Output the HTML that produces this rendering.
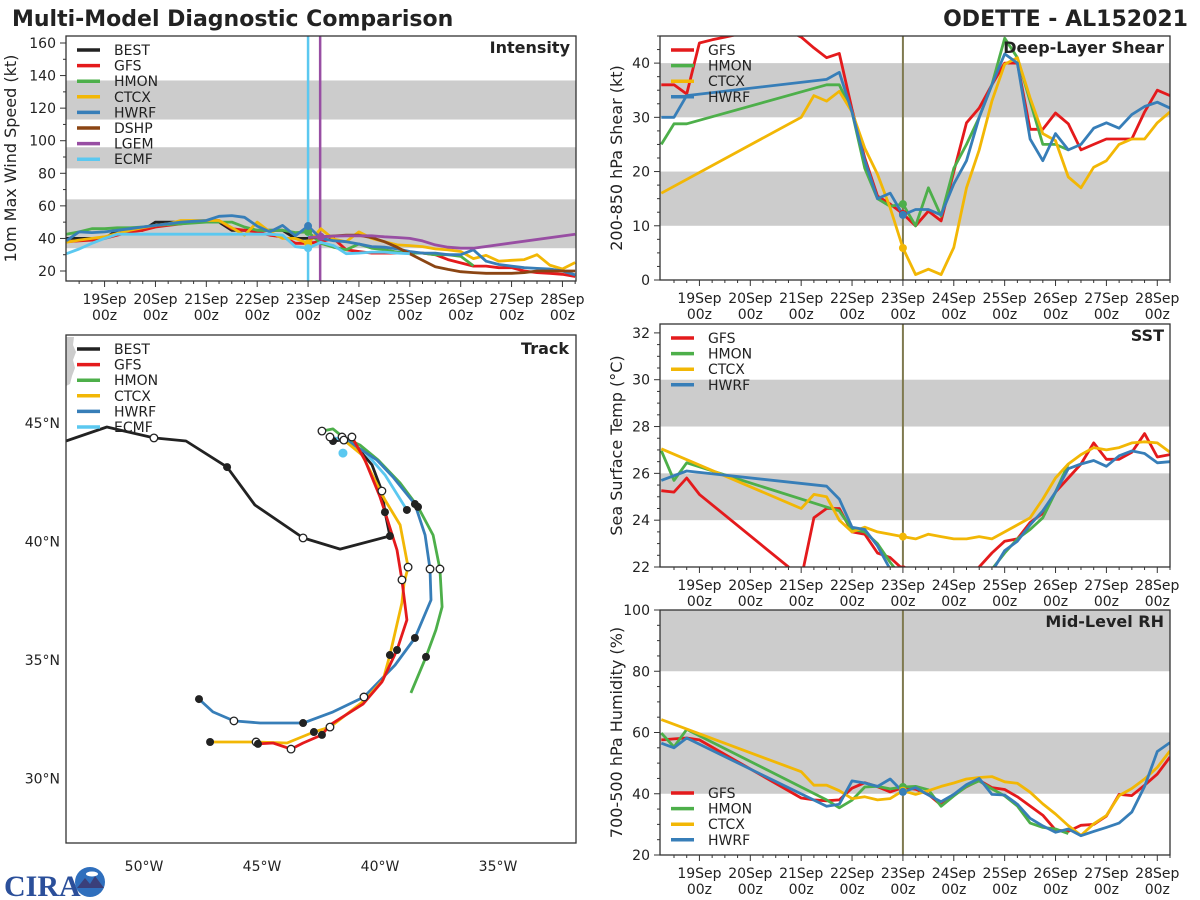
<!DOCTYPE html>
<html><head><meta charset="utf-8"><style>
html,body{margin:0;padding:0;background:#fff;}
svg{display:block;font-family:"DejaVu Sans","Liberation Sans",sans-serif;}
</style></head><body>
<svg id="chart" width="1200" height="900" viewBox="0 0 1200 900" xmlns="http://www.w3.org/2000/svg">
<rect x="0" y="0" width="1200" height="900" fill="#fff"/>
<text x="12" y="26" font-size="22" font-weight="bold" fill="#222">Multi-Model Diagnostic Comparison</text>
<text x="1188" y="26" font-size="22" font-weight="bold" fill="#222" text-anchor="end">ODETTE - AL152021</text>
<g id="logo">
<text x="4" y="896" font-size="30" font-weight="bold" fill="#2b4f9a" font-family="Liberation Serif, serif">CIRA</text>
<circle cx="90" cy="882" r="15" fill="#2f6fbd"/>
<path d="M77 888 L85 878 L90 884 L95 876 L104 888 Z" fill="#3a3f7a"/>
<ellipse cx="92" cy="874" rx="6" ry="2.5" fill="#fff"/>
</g>
</svg>
<script>
// ===== shared time grid (hours relative to 23Sep 00z) =====
const hours = [-114,-108,-102,-96,-90,-84,-78,-72,-66,-60,
 -54,-48,-42,-36,-30,-24,-18,-12,-6,0,
 6,12,18,24,30,36,42,48,54,60,
 66,72,78,84,90,96,102,108,114,120,
 126];
const dayLabels = ['19Sep','20Sep','21Sep','22Sep','23Sep','24Sep','25Sep','26Sep','27Sep','28Sep'];
const dayHours = [-96,-72,-48,-24,0,24,48,72,96,120];

// ===== Intensity (kt) =====
const intBEST = [40,40,40,40,45,45,45,50,50,50,
 50,50,50,45,45,45,45,45,40,40,
 null,null,null,null,null,null,null,null,null,null,
 null,null,null,null,null,null,null,null,null,null,
 null];
const intGFS = [38,38.5,39,40,42,44,45,47,48,49,
 50,51,51,46,45,44,42,41,37,37,
 38,40,33,32,31,31,31,31,31,30,
 27,25,23,23,22,22,20,19,18.6,18,
 16.6];
const intHMON = [42.6,44,46,46,46.5,46.5,47,48,48.5,49,
 49.5,50,50,50,47,45,45,45,43.6,44,
 37,34.6,33,36.6,34,33,31.6,31,31,30,
 30,29,23.2,null,null,null,null,null,null,null,
 null];
const intCTCX = [37.6,39,40,41,43,45,46.5,48,49,51,
 51,51,51,46.6,42,50,44,40,40,37,
 46,39.6,38,44,40,38,36,35.6,35,33.6,
 33,32,27.6,29.6,26,26.6,27,30,23.6,21.2,
 25.2];
const intHWRF = [38.6,44,43.6,44,45,46,47,48,49,50,
 50.5,51,53.6,54,53,47.6,44,48,41.6,47.6,
 40,38.6,38,36.6,35,34.6,33.6,32,31,31,
 30,30,33,26,24,23,22,21.6,21.2,20,
 17.6];
const intDSHP = [null,null,null,null,null,null,null,null,null,null,
 null,null,null,null,null,null,null,null,null,40,
 41,41.5,42,42,40.5,38,34.6,30.6,26.6,22.6,
 21,19.6,19,18.6,18.6,18.6,19,20,20,20,
 20];
const intLGEM = [null,null,null,null,null,null,null,null,null,null,
 null,null,null,null,null,null,null,null,null,40.6,
 41,41.4,41.6,41.6,41.6,41,40.6,40,38.5,36,
 34.6,34,34,null,null,null,null,null,null,null,
 42.6];
const intECMF = [30.6,33.5,37,40,42.6,null,null,null,null,null,
 null,null,null,null,null,null,42.6,42,35,34,
 37.6,35.6,30.6,31,31.6,31.6,31,30.6,null,null,
 null,null,null,null,null,null,null,null,null,null,
 null];
const intTicks = [20,40,60,80,100,120,140,160];

// ===== Deep-layer shear (kt) =====
const shrGFS = [36,36,34.3,43.7,44.3,44.8,45.3,46,46,46,
 46,44.8,42.8,41,41.8,31.5,22.5,15.5,14,12.2,
 10,12.7,10.9,20,29,31.7,36,40,40,27.8,
 27.8,30.8,28.8,24,25,26,26,26,31,35,
 34];
const shrHMON = [25,28.8,28.8,null,null,null,null,null,null,null,
 null,null,null,36,36,31,20.6,15,13.6,14,
 10,17,11.8,20.6,25,30,36,44.6,41,33,
 25,25,24,null,null,null,null,null,null,null,
 null];
const shrCTCX = [16,null,null,null,null,null,null,null,null,null,
 null,30,34,33,34.8,31,24.3,19.5,13.3,5.9,
 1,2,1,6,17,24,33,39.8,41,33.6,
 27,25.7,19,17,20.8,22,25,26,26,29,
 31];
const shrHWRF = [30,30,34,null,null,null,null,null,null,null,
 null,null,null,37,38.3,31,22,15,16,12,
 13,13,12,17.7,22,30,36,41.7,40,26,
 22,27,24,25,28,29,28,30.5,32,32.8,
 31.7];
const shrTicks = [0,10,20,30,40];

// ===== SST (deg C) =====
const sstGFS = [25.26,25.2,25.8,25.1,null,null,null,null,null,null,
 22.0,21.5,24.1,24.5,24.5,23.5,23.4,22.6,22.4,21.9,
 21,20.5,20.5,21,21.5,22.0,22.6,23.1,23.2,23.9,
 24.3,25.2,25.8,26.4,27.3,26.6,26.6,26.9,27.7,26.7,
 26.8];
const sstHMON = [26.97,25.7,26.45,null,null,null,null,null,null,null,
 null,null,null,24.56,24.4,23.6,23.5,23.0,22.2,21.5,
 21,21,21,21,21,21.2,21.9,22.6,23.2,23.6,
 24.1,25.2,26.4,null,null,null,null,null,null,null,
 null];
const sstCTCX = [27.05,null,null,null,null,null,null,null,null,null,
 null,24.5,25.1,25.0,24.0,23.5,23.7,23.5,23.4,23.3,
 23.2,23.4,23.3,23.2,23.2,23.3,23.2,23.5,23.8,24.1,
 24.9,25.8,26.4,26.8,27.1,27.0,27.1,27.3,27.35,27.3,
 26.9];
const sstHWRF = [25.7,25.9,26.1,null,null,null,null,null,null,null,
 null,null,null,25.45,24.9,23.7,23.6,22.9,21.9,21.5,
 21,21,21,21,21,21,21.8,22.7,23.1,23.8,
 24.4,25.2,26.2,26.4,26.55,26.3,26.75,26.96,26.85,26.45,
 26.5];
const sstTicks = [22,24,26,28,30,32];

// ===== Mid-level RH (%) =====
const rhGFS = [57.6,57.9,58.2,57.6,null,null,null,null,null,null,
 null,38.6,38,37.7,38,41.8,43.6,42.3,40.6,42,
 41.5,39.8,36.3,39.6,42.3,44.4,42,41.4,39,36,
 33,28.2,27.7,29.7,30,32.7,39.8,39.4,42.8,46.4,
 52];
const rhHMON = [59.8,55.3,61,null,null,null,null,null,null,null,
 null,null,null,38,35.4,37.9,42.2,42.4,41.6,42.2,
 42.4,41.3,35.9,39.3,42.4,44.2,41.6,39.3,36,30.4,
 29,28.5,27,null,null,null,null,null,null,null,
 null];
const rhCTCX = [64.2,null,null,null,null,null,null,null,null,null,
 null,47.2,42.8,42.8,41,38.4,39,38,38.4,41,
 39.8,41,42.4,43.5,44.8,45.3,45.6,43.9,43.4,40.5,
 36.7,33.4,29.6,26.4,30.2,32.9,39.4,41.7,44.8,48.6,
 54];
const rhHWRF = [56.5,55,58.2,null,null,null,null,null,null,null,
 null,null,null,35.9,36.6,44.2,43.5,42.4,44.8,40.6,
 42,39.6,37.4,39.8,43,45,39.8,39.6,36.6,32,
 29.5,27.4,28.5,26.3,27.7,29,30.4,34,42.4,53.8,
 56.7];
const rhTicks = [20,40,60,80,100];

// ===== Track (lon, lat) =====
const trkBESTlon = [-53.31,-51.57,-49.58,-48.22,-46.48,-45.30,-43.26,-41.69,-39.58,-39.79,-39.92,-40.34,-41.06,-41.61,-41.99];
const trkBESTlat = [44.24,44.83,44.37,44.24,43.14,41.54,40.15,39.68,40.23,41.24,42.13,43.23,44.07,44.28,44.24];
const trkGFSlon = [-41.19,-40.64,-40.00,-39.79,-39.28,-39.07,-38.86,-39.28,-39.92,-40.72,-42.12,-42.46,-43.26,-43.77,-44.53,-45.17];
const trkGFSlat = [44.41,43.44,41.88,41.24,39.64,38.38,36.69,35.42,34.07,33.14,32.26,31.84,31.50,31.24,31.50,31.46];
const trkHMONlon = [-42.46,-41.99,-41.57,-40.85,-40.08,-39.15,-38.39,-37.75,-37.46,-37.37,-37.63,-38.05,-38.69];
const trkHMONlat = [44.66,44.75,44.41,44.07,43.44,42.47,41.46,40.27,38.84,37.24,36.27,35.13,33.61];
const trkCTCXlon = [-41.53,-40.76,-39.79,-39.15,-38.81,-38.98,-39.07,-39.58,-39.87,-40.64,-42.12,-42.80,-43.94,-45.25,-47.20];
const trkCTCXlat = [44.28,43.65,41.75,40.70,38.92,38.25,37.41,35.21,34.16,33.31,32.17,31.96,31.50,31.54,31.54];
const trkHWRFlon = [-41.61,-40.13,-39.45,-38.52,-38.09,-37.88,-37.84,-38.52,-39.36,-40.68,-41.99,-43.26,-45.08,-46.19,-47.08,-47.67];
const trkHWRFlat = [44.41,43.44,42.72,41.58,40.27,38.84,37.53,35.93,34.79,33.44,32.81,32.34,32.34,32.43,32.81,33.35];
const trkECMFlon = [-42.12,-41.48,-40.64,-39.79,-38.86];
const trkECMFlat = [44.41,44.28,43.78,42.81,41.33];
const lonTicks = [-50,-45,-40,-35];
const latTicks = [30,35,40,45];

const C = {BEST:'#222222',GFS:'#e41a1c',HMON:'#4daf4a',CTCX:'#f2b705',HWRF:'#377eb8',DSHP:'#8b4513',LGEM:'#984ea3',ECMF:'#5bc8f0'};
const NS='http://www.w3.org/2000/svg';
const svg=document.getElementById('chart');
function mk(tag,attrs,parent){const e=document.createElementNS(NS,tag);for(const k in attrs)e.setAttribute(k,attrs[k]);(parent||svg).appendChild(e);return e;}
function txt(s,attrs,parent){const e=mk('text',attrs,parent);e.textContent=s;return e;}

function timePanel(cfg){
  const g=mk('g',{});
  
  
  const X=t=>cfg.x0+(t-cfg.t0)*(cfg.x1-cfg.x0)/(cfg.t1-cfg.t0);
  const Y=v=>cfg.y1-(v-cfg.v0)*(cfg.y1-cfg.y0)/(cfg.v1-cfg.v0);
  const cid='clip-'+cfg.name;
  const cp=mk('clipPath',{id:cid},g);
  mk('rect',{x:cfg.x0,y:cfg.y0,width:cfg.x1-cfg.x0,height:cfg.y1-cfg.y0},cp);
  for(const b of cfg.bands){
    const r=mk('rect',{x:cfg.x0,y:Y(b[1]),width:cfg.x1-cfg.x0,height:Y(b[0])-Y(b[1]),fill:'#cccccc'},g);
    
    
  }
  const pg=mk('g',{'clip-path':'url(#'+cid+')'},g);
  for(const vl of cfg.vlines){
    const l=mk('line',{x1:X(vl.t),x2:X(vl.t),y1:cfg.y0,y2:cfg.y1,stroke:vl.c,'stroke-width':vl.w||2},pg);
    
    
  }
  for(const s of cfg.series){
    let d='';
    s.v.forEach((v,i)=>{if(v===null)return;d+=(d?'L':'M')+X(hours[i]).toFixed(1)+' '+Y(v).toFixed(1);});
    const p=mk('path',{d:d,fill:'none',stroke:C[s.k],'stroke-width':2.8,'stroke-linejoin':'round'},pg);
    
    
  }
  for(const s of cfg.series){
    const i=hours.indexOf(s.dotT===undefined?0:s.dotT);
    if(s.dot===false||i<0||s.v[i]===null)continue;
    const c=mk('circle',{cx:X(hours[i]),cy:Y(s.v[i]),r:4,fill:C[s.k]},pg);
    
    
  }
  const fr=mk('rect',{x:cfg.x0,y:cfg.y0,width:cfg.x1-cfg.x0,height:cfg.y1-cfg.y0,fill:'none',stroke:'#333','stroke-width':1.3},g);
  
  
  for(let v=cfg.v0;v<=cfg.v1+1e-6;v+=cfg.minor){
    const vv=Math.round(v/cfg.minor)*cfg.minor; if(vv<cfg.v0||vv>cfg.v1)continue;
    const isMaj=cfg.ticks.some(t=>Math.abs(t-vv)<1e-6);
    mk('line',{x1:cfg.x0,x2:cfg.x0-(isMaj?6:3),y1:Y(vv),y2:Y(vv),stroke:'#333','stroke-width':1},g);
  }
  for(const t of cfg.ticks){
    const e=txt(String(t),{x:cfg.x0-10,y:Y(t)+5,'font-size':14,'text-anchor':'end',fill:'#222'},g);
    
    
  }
  for(let t=-108;t<=126;t+=6){
    if(X(t)<cfg.x0||X(t)>cfg.x1)continue;
    const maj=(t%24===0);
    mk('line',{x1:X(t),x2:X(t),y1:cfg.y1,y2:cfg.y1+(maj?6:3),stroke:'#333','stroke-width':1},g);
  }
  dayHours.forEach((t,i)=>{
    const a=txt(dayLabels[i],{x:X(t),y:cfg.y1+23,'font-size':14,'text-anchor':'middle',fill:'#222'},g);
    
    
    const b=txt('00z',{x:X(t),y:cfg.y1+39,'font-size':14,'text-anchor':'middle',fill:'#222'},g);
    
    
  });
  const yl=txt(cfg.ylabel,{x:0,y:0,'font-size':16,'text-anchor':'middle',fill:'#222',transform:'translate('+cfg.ylx+','+((cfg.y0+cfg.y1)/2)+') rotate(-90)'},g);
  
  
  const pt=txt(cfg.title,{x:cfg.x1-6,y:cfg.y0+17,'font-size':16,'font-weight':'bold','text-anchor':'end',fill:'#222'},g);
  
  
  legend(g,cfg.x0,cfg.legY,cfg.series.map(s=>s.k));
}
function legend(g,x0,y,keys){
  const lg=mk('g',{},g);
  
  
  keys.forEach((k,i)=>{
    const yy=y+i*15.6;
    const ln=mk('line',{x1:x0+11,x2:x0+34,y1:yy,y2:yy,stroke:C[k],'stroke-width':3.5},lg);
    
    
    const t=txt(k,{x:x0+48,y:yy+5,'font-size':14,fill:'#222'},lg);
    
    
  });
}

timePanel({name:'intensity-panel',x0:66,x1:576,y0:36,y1:281,t0:-114.2,t1:126.4,v0:13.86,v1:164.3,
  bands:[[34,64],[83,96],[113,137]],ticks:intTicks,minor:10,ylabel:'10m Max Wind Speed (kt)',ylx:16,title:'Intensity',legY:50,
  vlines:[{t:0,c:'#5bc8f0',w:2.5},{t:5.7,c:'#984ea3',w:2.5}],
  series:[{k:'BEST',v:intBEST,dot:false},{k:'GFS',v:intGFS,dot:false},{k:'HMON',v:intHMON},{k:'CTCX',v:intCTCX},{k:'HWRF',v:intHWRF},{k:'DSHP',v:intDSHP,dot:false},{k:'LGEM',v:intLGEM,dotT:6},{k:'ECMF',v:intECMF}]});
timePanel({name:'shear-panel',x0:660,x1:1170,y0:36,y1:280,t0:-114.6,t1:126,v0:0,v1:45,
  bands:[[10,20],[30,40]],ticks:shrTicks,minor:2.5,ylabel:'200-850 hPa Shear (kt)',ylx:622,title:'Deep-Layer Shear',legY:50,
  vlines:[{t:0,c:'#7f7a50',w:2}],
  series:[{k:'GFS',v:shrGFS},{k:'HMON',v:shrHMON},{k:'CTCX',v:shrCTCX},{k:'HWRF',v:shrHWRF}]});
timePanel({name:'sst-panel',x0:660,x1:1170,y0:324,y1:567,t0:-114.6,t1:126,v0:22,v1:32.38,
  bands:[[24,26],[28,30]],ticks:sstTicks,minor:0.5,ylabel:'Sea Surface Temp (°C)',ylx:622,title:'SST',legY:338,
  vlines:[{t:0,c:'#7f7a50',w:2}],
  series:[{k:'GFS',v:sstGFS},{k:'HMON',v:sstHMON},{k:'CTCX',v:sstCTCX},{k:'HWRF',v:sstHWRF}]});
timePanel({name:'rh-panel',x0:660,x1:1170,y0:610,y1:855,t0:-114.6,t1:126,v0:20,v1:100,
  bands:[[40,60],[80,100]],ticks:rhTicks,minor:5,ylabel:'700-500 hPa Humidity (%)',ylx:622,title:'Mid-Level RH',legY:793,
  vlines:[{t:0,c:'#7f7a50',w:2}],
  series:[{k:'GFS',v:rhGFS},{k:'HMON',v:rhHMON},{k:'CTCX',v:rhCTCX},{k:'HWRF',v:rhHWRF}]});

(function(){
  const g=mk('g',{});
  
  
  const x0=66,x1=576,y0=335,y1=843;
  const LX=lon=>144+(lon+50)*23.6;
  const LY=lat=>423-(lat-45)*23.7;
  const cp=mk('clipPath',{id:'clip-track'},g);
  mk('rect',{x:x0,y:y0,width:x1-x0,height:y1-y0},cp);
  const pg=mk('g',{'clip-path':'url(#clip-track)'},g);
  const land=mk('path',{d:'M66 337 L74 337 L73 345 L76 352 L73 360 L75 368 L72 376 L70 384 L66 386 Z',fill:'#cccccc'},pg);
  
  
  const tracks=[
    {k:'BEST',lon:trkBESTlon,lat:trkBESTlat,filled:[4,8,9,14],open:[2,6,10]},
    {k:'ECMF',lon:trkECMFlon,lat:trkECMFlat,filled:[4],open:[0]},
    {k:'HMON',lon:trkHMONlon,lat:trkHMONlat,filled:[6,11],open:[0,8]},
    {k:'HWRF',lon:trkHWRFlon,lat:trkHWRFlat,filled:[3,7,11,15],open:[0,5,9,13]},
    {k:'CTCX',lon:trkCTCXlon,lat:trkCTCXlat,filled:[7,11,14],open:[0,4,10,13]},
    {k:'GFS',lon:trkGFSlon,lat:trkGFSlat,filled:[7,11,15],open:[0,5,13]}
  ];
  for(const tr of tracks){
    let d='';
    tr.lon.forEach((lo,i)=>{d+=(i?'L':'M')+LX(lo).toFixed(1)+' '+LY(tr.lat[i]).toFixed(1);});
    const p=mk('path',{d:d,fill:'none',stroke:C[tr.k],'stroke-width':2.8,'stroke-linejoin':'round'},pg);
    
    
  }
  for(const tr of tracks){
    for(const i of tr.filled){
      const c=mk('circle',{cx:LX(tr.lon[i]),cy:LY(tr.lat[i]),r:4,fill:'#222'},pg);
      
      
    }
    for(const i of tr.open){
      const c=mk('circle',{cx:LX(tr.lon[i]),cy:LY(tr.lat[i]),r:3.8,fill:'#fff',stroke:'#222','stroke-width':1.3},pg);
      
      
    }
  }
  const ec=mk('circle',{cx:LX(-41.57),cy:LY(43.73),r:4.5,fill:C.ECMF},pg);
  
  
  const fr=mk('rect',{x:x0,y:y0,width:x1-x0,height:y1-y0,fill:'none',stroke:'#333','stroke-width':1.3},g);
  
  
  for(const lo of lonTicks){
    const t=txt(Math.abs(lo)+'°W',{x:LX(lo),y:871,'font-size':14,'text-anchor':'middle',fill:'#222'},g);
    
    
  }
  for(const la of latTicks){
    const t=txt(la+'°N',{x:60,y:LY(la)+5,'font-size':14,'text-anchor':'end',fill:'#222'},g);
    
    
  }
  const tt=txt('Track',{x:x1-7,y:y0+19,'font-size':16,'font-weight':'bold','text-anchor':'end',fill:'#222'},g);
  
  
  legend(g,x0,349,['BEST','GFS','HMON','CTCX','HWRF','ECMF']);
})();
</script>
</body></html>
